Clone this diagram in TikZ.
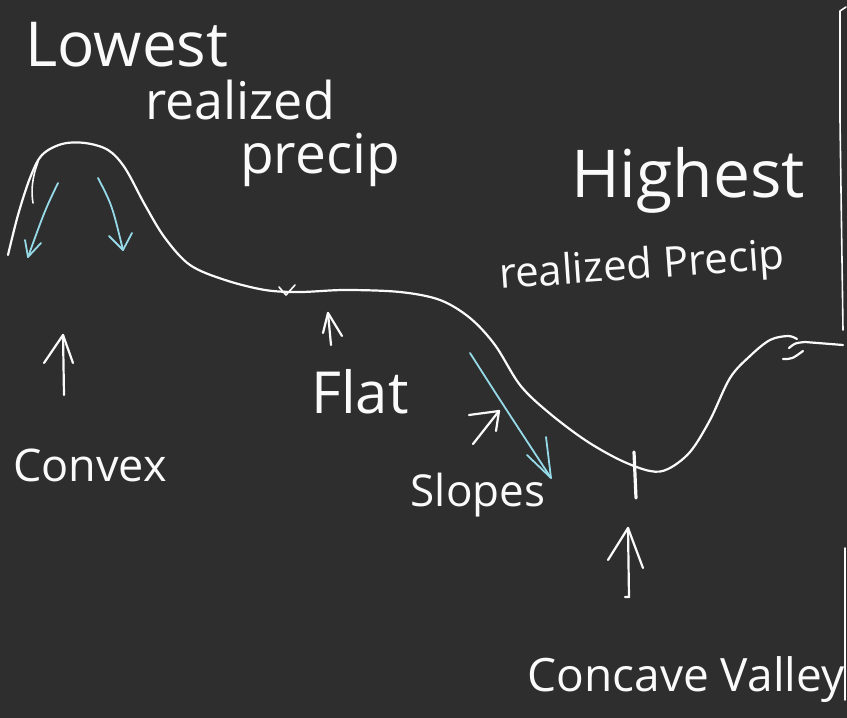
\documentclass[tikz,border=0pt]{standalone}
\usepackage{fontspec}
\setmainfont{Open Sans}
\definecolor{board}{RGB}{46,46,46}
\definecolor{chalk}{RGB}{250,250,250}
\definecolor{flow}{RGB}{150,218,232}
\begin{document}
\begin{tikzpicture}[x=1pt,y=-1pt,
  chalkline/.style={draw=chalk,line width=2.2pt,line cap=round,line join=round},
  flowline/.style={draw=flow,line width=1.8pt,line cap=round,line join=round},
  word/.style={text=chalk,inner sep=0pt,anchor=center}]
\fill[board] (0,0) rectangle (847,718);
\useasboundingbox (0,0) rectangle (847,718);

% terrain profile
\draw[chalkline] plot[smooth,tension=0.55] coordinates {
  (8,255) (18,215) (30,178) (42,155) (62,144) (85,143) (108,150) (125,168)
  (145,205) (165,238) (190,265) (225,280) (265,290) (300,292) (345,290)
  (400,292) (440,300) (470,318) (495,345) (520,385) (548,412) (585,440)
  (620,460) (650,471) (668,469) (690,452) (710,420) (730,378) (750,356)
  (770,340) (788,336) (797,339)};
\draw[chalkline] (789,348) .. controls (795,343) .. (805,342) -- (843,345);
\draw[chalkline] (783,359) .. controls (792,359) .. (803,351);
% scribble on the left flank
\draw[chalkline,line width=1.6pt] (33,203) .. controls (30,185) and (35,170) .. (38,162);
% tick on the flat
\draw[chalkline,line width=1.6pt] (279,287) -- (286,295) -- (295,285);
% valley mark
\draw[chalkline,line width=3.2pt] (634,452) -- (636,498);

% runoff arrows, each with an open hand-drawn head
\coordinate (runL) at (28,257);
\coordinate (runR) at (123,250);
\coordinate (runS) at (551,478);
\draw[flowline] (58,183) .. controls (45,210) .. (runL);
\draw[flowline] ([shift={(-3,-17)}]runL) -- (runL) -- ([shift={(13,-14)}]runL);
\draw[flowline] (98,178) .. controls (112,205) .. (runR);
\draw[flowline] ([shift={(-14,-14)}]runR) -- (runR) -- ([shift={(9,-17)}]runR);
\draw[flowline] (470,353) .. controls (500,400) .. (runS);
\draw[flowline] ([shift={(-24,-23)}]runS) -- (runS) -- ([shift={(-5,-41)}]runS);

% frame on the right
\draw[chalkline,line width=1.6pt] (846,7) -- (840,11) -- (840,120) -- (843,330);
\draw[chalkline,line width=1.6pt] (845,548) -- (845,700);

% labels
\node[word,font=\fontsize{62}{62}\selectfont] (lowest) at (127,45) {Lowest};
\node[word,font=\fontsize{52}{52}\selectfont] (realizedA) at (240,100) {realized};
\node[word,font=\fontsize{55}{55}\selectfont] (precipA) at (320,160) {precip};
\node[word,font=\fontsize{66}{66}\selectfont] (highest) at (688,180) {Highest};
\node[word,font=\fontsize{42}{42}\selectfont,rotate=4] (realizedB) at (642,268) {realized Precip};
\node[word,font=\fontsize{58}{58}\selectfont] (flat) at (360,392) {Flat};
\node[word,font=\fontsize{45}{45}\selectfont] (convex) at (90,465) {Convex};
\node[word,font=\fontsize{44}{44}\selectfont] (slopes) at (478,495) {Slopes};
\node[word,font=\fontsize{46}{46}\selectfont] (concave) at (686,680) {Concave Valley};

% pointers from the labels to the landforms
\coordinate (convexTip) at (63,335);
\coordinate (flatTip) at (328,313);
\coordinate (slopesTip) at (499,411);
\coordinate (valleyTip) at (628,528);
\draw[chalkline] (64,395) -- (convexTip);
\draw[chalkline] ([shift={(-19,28)}]convexTip) -- (convexTip) -- ([shift={(10,28)}]convexTip);
\draw[chalkline] (331,345) -- (flatTip);
\draw[chalkline] ([shift={(-5,20)}]flatTip) -- (flatTip) -- ([shift={(14,23)}]flatTip);
\draw[chalkline] (473,444) -- (slopesTip);
\draw[chalkline] ([shift={(-30,4)}]slopesTip) -- (slopesTip) -- ([shift={(-3,20)}]slopesTip);
\draw[chalkline] (625,597) -- (629,597) -- (valleyTip);
\draw[chalkline] ([shift={(-20,32)}]valleyTip) -- (valleyTip) -- ([shift={(15,40)}]valleyTip);
\end{tikzpicture}
\end{document}
